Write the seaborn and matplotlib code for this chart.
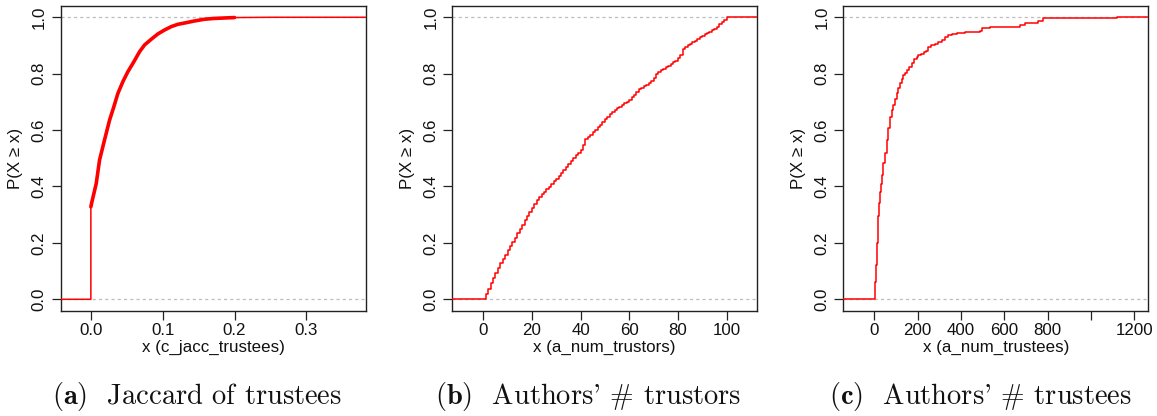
import numpy as np
import pandas as pd
import matplotlib
matplotlib.use("Agg")
import matplotlib.pyplot as plt
import seaborn as sns

# ---------------------------------------------------------------------------
# Empirical CDF knots (x value, cumulative share) for the three measures
# ---------------------------------------------------------------------------

# (a) Jaccard similarity of trustees
jacc_x = [0.0, 0.0, 0.0014, 0.0075, 0.0121, 0.019, 0.026, 0.032, 0.0376,
          0.0446, 0.0515, 0.060, 0.0678, 0.0748, 0.084, 0.0933, 0.1026,
          0.112, 0.121, 0.133, 0.1444, 0.158, 0.172, 0.200, 0.250, 0.339]
jacc_F = [0.0, 0.328, 0.345, 0.411, 0.494, 0.565, 0.635, 0.683, 0.730,
          0.772, 0.807, 0.843, 0.878, 0.902, 0.922, 0.941, 0.955,
          0.967, 0.975, 0.981, 0.987, 0.993, 0.996, 0.999, 1.0, 1.0]

# (b) authors' number of trustors: value 1..100
trustors_x = list(range(1, 101))
trustors_F = [
    0.019, 0.038, 0.057, 0.075, 0.092, 0.110, 0.127, 0.143, 0.158, 0.174,
    0.189, 0.203, 0.218, 0.234, 0.250, 0.265, 0.281, 0.296, 0.310, 0.323,
    0.338, 0.352, 0.363, 0.373, 0.382, 0.391, 0.399, 0.409, 0.418, 0.428,
    0.437, 0.448, 0.459, 0.469, 0.480, 0.490, 0.500, 0.510, 0.520, 0.530,
    0.548, 0.568, 0.575, 0.584, 0.592, 0.601, 0.610, 0.619, 0.628, 0.638,
    0.648, 0.656, 0.664, 0.672, 0.677, 0.683, 0.689, 0.695, 0.701, 0.708,
    0.716, 0.726, 0.735, 0.745, 0.750, 0.755, 0.760, 0.766, 0.775, 0.786,
    0.800, 0.806, 0.812, 0.818, 0.823, 0.829, 0.835, 0.840, 0.846, 0.855,
    0.868, 0.888, 0.895, 0.901, 0.906, 0.911, 0.917, 0.924, 0.930, 0.934,
    0.939, 0.944, 0.949, 0.954, 0.960, 0.967, 0.975, 0.984, 0.991, 1.000,
]

# (c) authors' number of trustees
trustees_x = [1, 3, 6, 11, 15, 19, 23, 27, 31, 35, 41, 49, 57, 65, 72, 80,
              88, 96, 103, 110, 118, 126, 134, 142, 150, 160, 172, 185, 195,
              203, 215, 228, 240, 249, 262, 280, 295, 311, 326, 340, 357,
              380, 418, 449, 488, 496, 534, 672, 695, 757, 780, 1119]
trustees_F = [0.020, 0.060, 0.120, 0.200, 0.250, 0.295, 0.340, 0.380,
              0.410, 0.440, 0.482, 0.518, 0.565, 0.606, 0.648, 0.671,
              0.690, 0.712, 0.730, 0.748, 0.766, 0.780, 0.795, 0.804,
              0.813, 0.824, 0.837, 0.851, 0.860, 0.866, 0.870, 0.876,
              0.880, 0.896, 0.900, 0.905, 0.912, 0.919, 0.931, 0.937,
              0.941, 0.945, 0.947, 0.949, 0.952, 0.961, 0.967, 0.973,
              0.981, 0.987, 0.996, 1.000]

x_labels = ["x (c_jacc_trustees)", "x (a_num_trustors)", "x (a_num_trustees)"]
captions = [r"$\mathbf{(a)}$  Jaccard of trustees",
            r"$\mathbf{(b)}$  Authors' # trustors",
            r"$\mathbf{(c)}$  Authors' # trustees"]
x_limits = [(-0.042, 0.383), (-12.7, 112.4), (-143, 1264)]
x_ticks = [[0.0, 0.1, 0.2, 0.3],
           [0, 20, 40, 60, 80, 100],
           [0, 200, 400, 600, 800, 1000, 1200]]
x_ticklabels = [["0.0", "0.1", "0.2", "0.3"],
                ["0", "20", "40", "60", "80", "100"],
                ["0", "200", "400", "600", "800", "", "1200"]]
y_ticks = [0.0, 0.2, 0.4, 0.6, 0.8, 1.0]
y_ticklabels = ["0.0", "0.2", "0.4", "0.6", "0.8", "1.0"]

# ---------------------------------------------------------------------------
sns.set_style("ticks")
plt.rcParams["font.family"] = ["Liberation Sans", "DejaVu Sans"]
plt.rcParams["mathtext.fontset"] = "cm"
plt.rcParams["axes.unicode_minus"] = False

W, H = 1157, 416
fig = plt.figure(figsize=(W / 100, H / 100), dpi=100, facecolor="white")

ax_left_px = [60.7, 452.3, 843.3]
ax_w_px = [305.3, 304.4, 305.0]
ax_top_px, ax_bot_px = 6.0, 311.0
caption_cx = [197.5, 588.0, 980.0]

RED = "#FF0000"
GRID = "#BDBDBD"
FS = 12.2


def with_ends(xs, Fs, lim):
    """Extend ECDF knots flat out to both axis limits."""
    return [lim[0]] + list(xs) + [lim[1]], [0.0] + list(Fs) + [1.0]


panels = [
    (jacc_x, jacc_F, False),
    (trustors_x, trustors_F, True),
    (trustees_x, trustees_F, True),
]

for i, (xs, Fs, stepped) in enumerate(panels):
    ax = fig.add_axes([ax_left_px[i] / W, (H - ax_bot_px) / H,
                       ax_w_px[i] / W, (ax_bot_px - ax_top_px) / H])
    lim = x_limits[i]
    ax.set_xlim(*lim)
    ax.set_ylim(-0.0415, 1.040)

    ax.axhline(0.0, color=GRID, lw=0.9, ls=(0, (2.5, 2.5)), zorder=1)
    ax.axhline(1.0, color=GRID, lw=0.9, ls=(0, (2.5, 2.5)), zorder=1)

    ex, eF = with_ends(xs, Fs, lim)
    df = pd.DataFrame({"x": ex, "F": eF})
    if stepped:
        sns.lineplot(data=df, x="x", y="F", ax=ax, color=RED, lw=1.1,
                     estimator=None, sort=False, drawstyle="steps-post",
                     zorder=3)
    else:
        sns.lineplot(data=df, x="x", y="F", ax=ax, color=RED, lw=1.1,
                     estimator=None, sort=False, zorder=3)
        # the densely stepped body of the curve reads as a heavier stroke
        dense = df[((df["x"] > 0) & (df["x"] <= 0.2)) |
                   ((df["x"] == 0) & (df["F"] > 0))]
        sns.lineplot(data=dense, x="x", y="F", ax=ax, color=RED, lw=2.6,
                     estimator=None, sort=False, zorder=4)

    ax.set_xticks(x_ticks[i])
    ax.set_xticklabels(x_ticklabels[i])
    ax.set_yticks(y_ticks)
    ax.set_yticklabels(y_ticklabels, rotation=90, va="center")
    ax.tick_params(axis="both", direction="out", length=6.5, width=0.9,
                   labelsize=FS, color="#222222", labelcolor="#111111")
    ax.tick_params(axis="x", pad=2)
    ax.tick_params(axis="y", pad=3.5)

    for sp in ax.spines.values():
        sp.set_visible(True)
        sp.set_linewidth(1.0)
        sp.set_color("#222222")

    ax.set_xlabel(x_labels[i], fontsize=FS, color="#111111")
    ax.set_ylabel("P(X \u2265 x)", fontsize=FS, color="#111111")
    ax.xaxis.set_label_coords(0.5, -0.093)
    ax.yaxis.set_label_coords(-0.122, 0.5)

    fig.text(caption_cx[i] / W, (H - 404) / H, captions[i],
             fontfamily="cmr10", fontsize=20.5, ha="center",
             va="baseline", color="#111111")

fig.savefig("out.png", dpi=100, facecolor="white")
